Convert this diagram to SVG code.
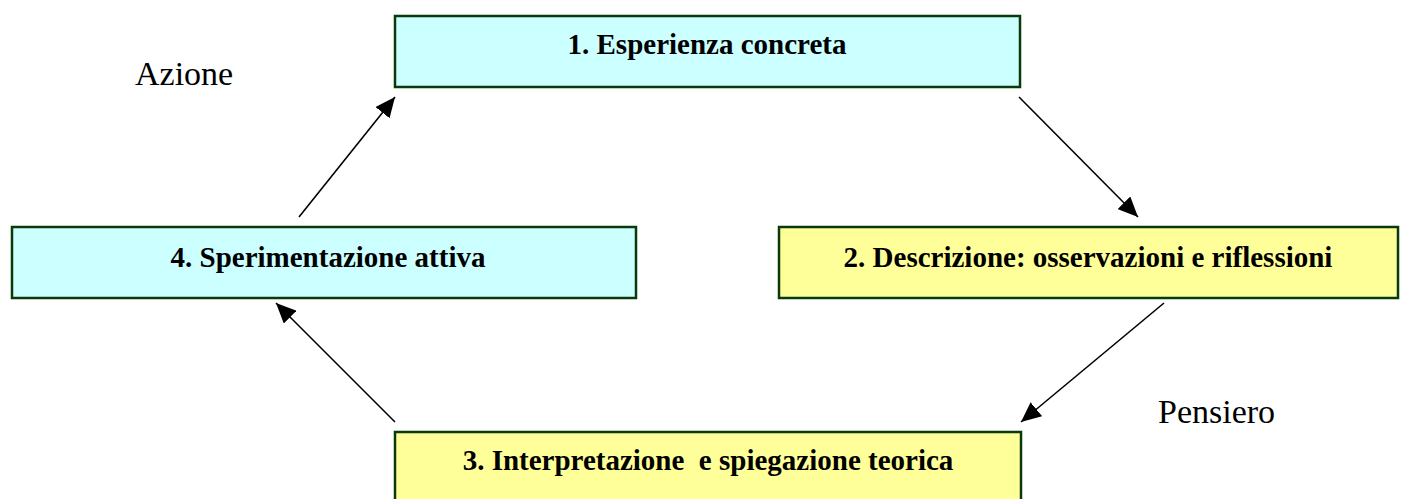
<svg xmlns="http://www.w3.org/2000/svg" width="1404" height="499" viewBox="0 0 1404 499">
<style>
.box{stroke:#0a3a0a;stroke-width:2.5}
.cyan{fill:#CCFFFF}
.yellow{fill:#FFFF99}
.lbl{font-family:"Liberation Serif","Times New Roman",serif;font-weight:bold;font-size:29px;fill:#000;text-anchor:middle}
.side{font-family:"Liberation Serif","Times New Roman",serif;font-size:34px;fill:#000}
.conn{stroke:#000;stroke-width:1.6;fill:none;marker-end:url(#ah)}
</style>
<defs>
<marker id="ah" markerUnits="userSpaceOnUse" markerWidth="22" markerHeight="18" viewBox="0 0 22 18" refX="20" refY="9" orient="auto">
<path d="M0,0 L20,9 L0,18 Z" fill="#000"/>
</marker>
</defs>
<rect width="1404" height="499" fill="#fff"/>
<g id="node1">
<rect class="box cyan" x="395" y="16" width="625" height="71"/>
<text class="lbl" x="707" y="54">1. Esperienza concreta</text>
</g>
<g id="node2">
<rect class="box yellow" x="779" y="227" width="619" height="71"/>
<text class="lbl" x="1088" y="267">2. Descrizione: osservazioni e riflessioni</text>
</g>
<g id="node3">
<rect class="box yellow" x="395" y="432" width="626" height="80"/>
<text class="lbl" x="708" y="470" xml:space="preserve">3. Interpretazione  e spiegazione teorica</text>
</g>
<g id="node4">
<rect class="box cyan" x="12" y="227" width="624" height="71"/>
<text class="lbl" x="328" y="267">4. Sperimentazione attiva</text>
</g>
<g id="connectors">
<line class="conn" x1="299" y1="217" x2="395" y2="97"/>
<line class="conn" x1="1019" y1="97" x2="1138" y2="217"/>
<line class="conn" x1="1164" y1="303" x2="1021" y2="422"/>
<line class="conn" x1="395" y1="422" x2="276" y2="303"/>
</g>
<g id="labels">
<text class="side" x="135" y="85">Azione</text>
<text class="side" x="1158" y="423">Pensiero</text>
</g>
</svg>
